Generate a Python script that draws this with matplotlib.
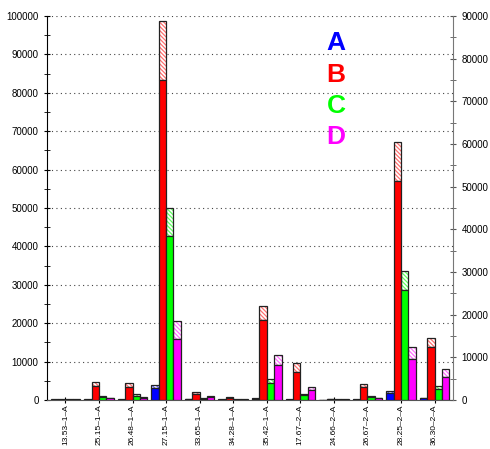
import matplotlib
matplotlib.use("Agg")
import matplotlib.pyplot as plt
import numpy as np
from matplotlib.ticker import MultipleLocator

categories = ["13.53\u20131\u2013A", "25.15\u20131\u2013A", "26.48\u20131\u2013A", "27.15\u20131\u2013A",
              "33.65\u20131\u2013A", "34.28\u20131\u2013A", "35.42\u20131\u2013A", "17.67\u20132\u2013A",
              "24.66\u20132\u2013A", "26.67\u20132\u2013A", "28.25\u20132\u2013A", "36.30\u20132\u2013A"]

series_names = ["A", "B", "C", "D"]
A_solid = [100, 100, 100, 3000, 150, 100, 350, 100, 100, 100, 1900, 400]
A_total = [150, 150, 150, 3800, 200, 150, 450, 150, 100, 150, 2260, 600]
B_solid = [120, 3650, 3380, 83300, 1480, 520, 20830, 7380, 150, 3300, 57000, 13700]
B_total = [150, 4600, 4340, 98800, 2000, 700, 24560, 9720, 200, 4170, 67100, 16200]
C_solid = [100, 700, 1130, 42700, 350, 100, 4510, 1250, 100, 870, 28730, 2950]
C_total = [150, 960, 1480, 50000, 430, 150, 5380, 1480, 150, 1130, 33500, 3650]
D_solid = [100, 400, 500, 15800, 700, 100, 9030, 2520, 100, 400, 10590, 5990]
D_total = [150, 520, 700, 20500, 960, 150, 11720, 3380, 150, 520, 13720, 8000]

colors = ["#0000ff", "#ff0000", "#00ff00", "#ff00ff"]
hatch_colors = ["#6060ff", "#ff7070", "#60ff60", "#ff70ff"]
solids = [A_solid, B_solid, C_solid, D_solid]
totals = [A_total, B_total, C_total, D_total]

plt.rcParams['font.family'] = ['Liberation Sans', 'DejaVu Sans']
plt.rcParams['hatch.linewidth'] = 0.9

fig = plt.figure(figsize=(4.9, 4.49), dpi=100)
ax = fig.add_axes([47/490, 49/449, 406/490, 384/449])

x = np.arange(len(categories))
w = 0.22
for k in range(4):
    xs = x + (k - 1.5) * w
    s = np.array(solids[k])
    t = np.array(totals[k])
    # hatched upper part
    ax.bar(xs, t - s, w, bottom=s, facecolor="white", edgecolor=hatch_colors[k],
           hatch="\\" * 8, linewidth=0, zorder=2)
    ax.bar(xs, t - s, w, bottom=s, fill=False, edgecolor="#222222", linewidth=0.9, zorder=3)
    # solid lower part
    ax.bar(xs, s, w, color=colors[k], edgecolor="#222222", linewidth=0.9, zorder=3)

ax.set_xlim(-0.55, len(categories) - 0.45)
ax.set_ylim(0, 100000)
ax.yaxis.set_major_locator(MultipleLocator(10000))
ax.yaxis.set_minor_locator(MultipleLocator(5000))
ax.grid(axis="y", which="major", linestyle=(0, (1, 3)), color="#444444", linewidth=0.8, zorder=0)
ax.set_axisbelow(True)
ax.set_xticks(x)
ax.set_xticklabels(categories, rotation=90, fontsize=6)
ax.tick_params(axis="y", which="both", direction="inout", labelsize=7, color="black")
ax.tick_params(axis="y", which="major", length=5)
ax.tick_params(axis="y", which="minor", length=4)
ax.tick_params(axis="x", direction="inout", length=4, labelsize=6, pad=1)
ax.spines["top"].set_visible(False)
ax.spines["right"].set_visible(False)
ax.spines["bottom"].set_color("#555555")
ax.spines["left"].set_color("black")

ax2 = ax.twinx()
ax2.set_ylim(0, 90000)
ax2.yaxis.set_major_locator(MultipleLocator(10000))
ax2.yaxis.set_minor_locator(MultipleLocator(5000))
ax2.tick_params(axis="y", which="both", direction="inout", labelsize=7, color="#555555")
ax2.tick_params(axis="y", which="major", length=5)
ax2.tick_params(axis="y", which="minor", length=4)
for sp in ["top", "left", "bottom"]:
    ax2.spines[sp].set_visible(False)
ax2.spines["right"].set_color("#777777")

legend_y = [43, 75, 106, 137]
for name, c, yy in zip(series_names, colors, legend_y):
    fig.text(336/490, 1 - yy/449, name, color=c, fontsize=19, fontweight="bold",
             ha="center", va="center", family=["Liberation Sans", "DejaVu Sans"])

fig.savefig("out.png", dpi=100)
